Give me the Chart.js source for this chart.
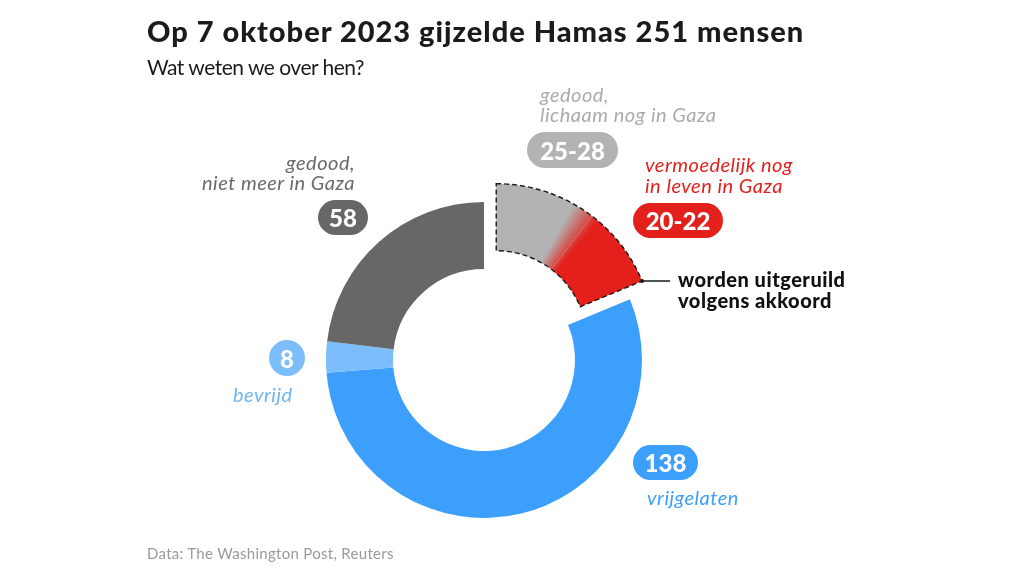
<!DOCTYPE html>
<html><head><meta charset="utf-8">
<script src="https://cdn.jsdelivr.net/npm/chart.js@4.4.0/dist/chart.umd.min.js"></script>
<style>
html,body{margin:0;padding:0;background:#fff;}
#wrap{position:relative;width:1024px;height:576px;overflow:hidden;font-family:Lato,"Noto Sans",sans-serif;}
#c{position:absolute;left:0;top:0;}
.t{position:absolute;white-space:nowrap;line-height:1.2;transform:translateY(-50%);}
.r{text-align:right;}
.i{font-style:italic;font-size:20px;letter-spacing:0.5px;}
.pill{position:absolute;border-radius:18px;color:#fff;font-weight:900;font-size:24px;display:flex;align-items:center;justify-content:center;}
</style>
</head><body>
<div id="wrap">
<canvas id="c" width="1024" height="576"></canvas>
<div class="t" id="title" style="left:147px;top:31px;font-size:29px;font-weight:900;letter-spacing:1px;color:#1b1b1b;">Op 7 oktober 2023 gijzelde Hamas 251 mensen</div>
<div class="t" id="sub" style="left:147px;top:67px;font-size:21px;letter-spacing:-0.5px;color:#1b1b1b;">Wat weten we over hen?</div>

<div class="t i r" style="right:669px;top:162px;color:#6a6a6a;">gedood,</div>
<div class="t i r" style="right:669px;top:182px;color:#6a6a6a;">niet meer in Gaza</div>
<div class="pill" style="left:318px;top:200px;width:50px;height:35px;background:#676767;">58</div>

<div class="t i" style="left:540px;top:94px;color:#ababab;">gedood,</div>
<div class="t i" style="left:540px;top:114px;color:#ababab;">lichaam nog in Gaza</div>
<div class="pill" style="left:527px;top:132px;width:91px;height:36px;background:#b3b3b3;">25-28</div>

<div class="t i" style="left:645px;top:164px;color:#e3201b;">vermoedelijk nog</div>
<div class="t i" style="left:645px;top:185px;color:#e3201b;">in leven in Gaza</div>
<div class="pill" style="left:633px;top:203px;width:90px;height:35px;background:#e3201b;">20-22</div>

<div class="t" style="left:678px;top:279px;font-size:20px;font-weight:900;letter-spacing:0.5px;color:#111;">worden uitgeruild</div>
<div class="t" style="left:678px;top:300px;font-size:20px;font-weight:900;letter-spacing:0.5px;color:#111;">volgens akkoord</div>

<div class="pill" style="left:269px;top:340px;width:36px;height:36px;background:#7cbdfb;">8</div>
<div class="t i" style="left:233px;top:394px;color:#6fb5f5;">bevrijd</div>

<div class="pill" style="left:633px;top:445px;width:65px;height:35px;background:#3d9ffc;">138</div>
<div class="t i" style="left:647px;top:497px;color:#3d9ffc;">vrijgelaten</div>

<div class="t" style="left:147px;top:553px;font-size:15px;letter-spacing:0.3px;color:#9a9a9a;">Data: The Washington Post, Reuters</div>
</div>
<script>
const categories = ['gedood, lichaam nog in Gaza', 'vermoedelijk nog in leven in Gaza', 'vrijgelaten', 'bevrijd', 'gedood, niet meer in Gaza'];
const values = [26, 21, 138, 8, 58];
const colors = ['#b3b3b3', '#e3201b', '#3d9ffc', '#7cbdfb', '#676767'];
const exploded = [true, true, false, false, false];
const explodeDist = 22;

const total = values.reduce((a, b) => a + b, 0);
const explodedSum = values.filter((v, i) => exploded[i]).reduce((a, b) => a + b, 0);
const midAngle = -Math.PI / 2 + explodedSum / total * Math.PI;
const shiftX = Math.cos(midAngle) * explodeDist;
const shiftY = Math.sin(midAngle) * explodeDist;

function bg(ctx) {
  const i = ctx.dataIndex;
  if (!exploded[i]) return colors[i];
  const chart = ctx.chart, ca = chart.chartArea;
  if (!ca) return colors[i];
  const cx = (ca.left + ca.right) / 2 + shiftX;
  const cy = (ca.top + ca.bottom) / 2 + shiftY;
  const g = chart.ctx.createConicGradient(-Math.PI / 2, cx, cy);
  const b = values[0] / total - 0.006;
  g.addColorStop(0, colors[0]);
  g.addColorStop(b - 0.016, colors[0]);
  g.addColorStop(b + 0.014, colors[1]);
  g.addColorStop(1, colors[1]);
  return g;
}

const explodePlugin = {
  id: 'explode',
  afterDatasetsUpdate(chart) {
    const meta = chart.getDatasetMeta(0);
    meta.data.forEach((el, i) => {
      if (exploded[i]) { el.x += shiftX; el.y += shiftY; }
    });
  },
  afterDatasetsDraw(chart) {
    const meta = chart.getDatasetMeta(0);
    const idx = exploded.map((e, i) => e ? i : -1).filter(i => i >= 0);
    const first = meta.data[idx[0]], last = meta.data[idx[idx.length - 1]];
    const ctx = chart.ctx;
    ctx.save();
    ctx.beginPath();
    ctx.arc(first.x, first.y, first.outerRadius, first.startAngle, last.endAngle);
    ctx.arc(first.x, first.y, first.innerRadius, last.endAngle, first.startAngle, true);
    ctx.closePath();
    ctx.setLineDash([5, 3]);
    ctx.lineWidth = 1.4;
    ctx.strokeStyle = '#1a1a1a';
    ctx.stroke();
    const ex = last.x + Math.cos(last.endAngle) * last.outerRadius;
    const ey = last.y + Math.sin(last.endAngle) * last.outerRadius;
    ctx.setLineDash([]);
    ctx.beginPath();
    ctx.moveTo(ex, ey);
    ctx.lineTo(ex + 28, ey);
    ctx.lineWidth = 1.5;
    ctx.stroke();
    ctx.beginPath();
    ctx.arc(ex, ey, 2, 0, Math.PI * 2);
    ctx.fillStyle = '#1a1a1a';
    ctx.fill();
    ctx.restore();
  }
};

new Chart(document.getElementById('c'), {
  type: 'doughnut',
  data: {
    labels: categories,
    datasets: [{ data: values, backgroundColor: bg, borderWidth: 0, hoverOffset: 0 }]
  },
  options: {
    responsive: false,
    animation: false,
    radius: 158,
    cutout: (91 / 158 * 100) + '%',
    layout: { padding: { left: 0, right: 56, top: 144, bottom: 0 } },
    plugins: { legend: { display: false }, tooltip: { enabled: false }, title: { display: false } },
    events: []
  },
  plugins: [explodePlugin]
});
</script>
</body></html>
